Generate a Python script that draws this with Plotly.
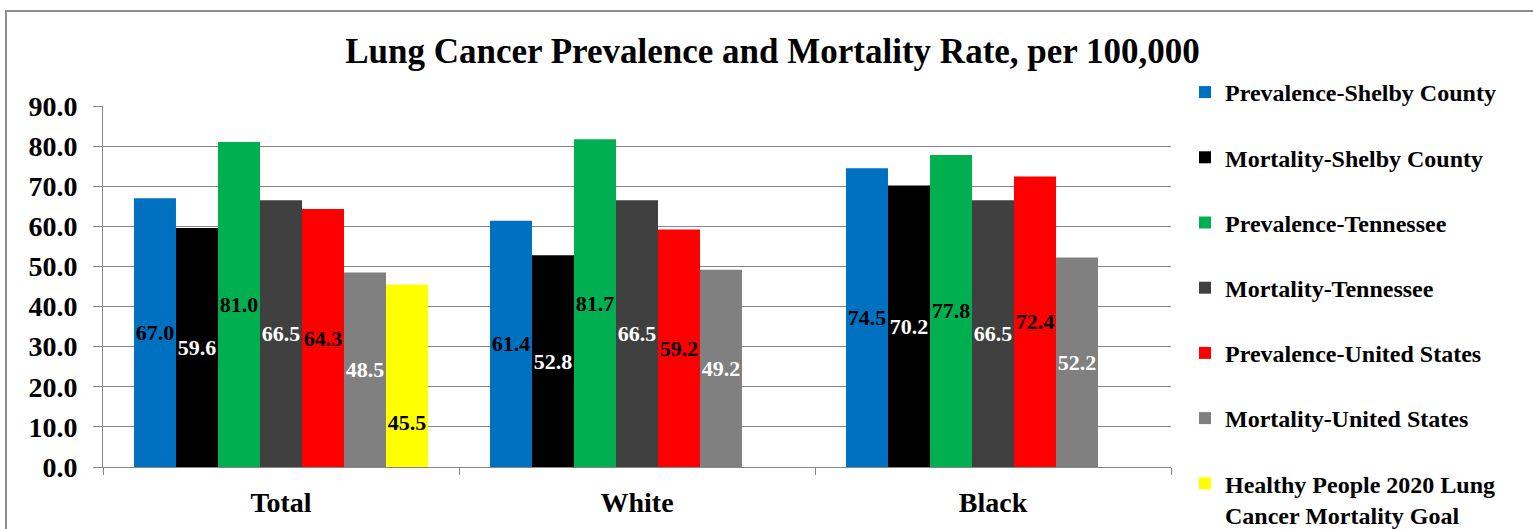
import plotly.graph_objects as go

categories = ["Total", "White", "Black"]
series_names = [
    "Prevalence-Shelby County",
    "Mortality-Shelby County",
    "Prevalence-Tennessee",
    "Mortality-Tennessee",
    "Prevalence-United States",
    "Mortality-United States",
    "Healthy People 2020 Lung<br>Cancer Mortality Goal",
]
prev_shelby = [67.0, 61.4, 74.5]
mort_shelby = [59.6, 52.8, 70.2]
prev_tn = [81.0, 81.7, 77.8]
mort_tn = [66.5, 66.5, 66.5]
prev_us = [64.3, 59.2, 72.4]
mort_us = [48.5, 49.2, 52.2]
hp2020_goal = [45.5, None, None]
y_ticks = [0, 10, 20, 30, 40, 50, 60, 70, 80, 90]
y_range = [0, 90]

series_values = [prev_shelby, mort_shelby, prev_tn, mort_tn, prev_us, mort_us, hp2020_goal]
bar_colors = ["#0070C0", "#000000", "#00B050", "#404040", "#FF0000", "#808080", "#FFFF00"]
label_colors = ["#000000", "#FFFFFF", "#000000", "#FFFFFF", "#000000", "#FFFFFF", "#000000"]
anchors = ["middle"] * 6 + ["start"]
# the goal label sits above the bar's foot, lifted by one blank line
label_suffix = [""] * 6 + ["<br>\u00a0"]

FONT = "Liberation Serif"
GRID = "#868686"

fig = go.Figure()
for i, (name, vals) in enumerate(zip(series_names, series_values)):
    fig.add_trace(go.Bar(
        name=name,
        x=categories,
        y=vals,
        marker=dict(color=bar_colors[i], line=dict(width=0)),
        text=[None if v is None else f"{v:.1f}{label_suffix[i]}" for v in vals],
        textposition="inside",
        insidetextanchor=anchors[i],
        textangle=0,
        textfont=dict(family=FONT, size=22, color=label_colors[i], weight="bold"),
        constraintext="none",
        cliponaxis=False,
        legendgroup=f"g{i}",
    ))

# empty helper trace so the label-only second y axis gets drawn
fig.add_trace(go.Scatter(x=[], y=[], yaxis="y2", showlegend=False,
                         hoverinfo="skip", mode="markers"))

# The page shows a 1533x529 window; the canvas runs a little lower so the
# legend's last two-line entry can sit near the bottom edge as in the source.
W, VIEW_H, H = 1533, 529, 570
L, R, T, B = 103, 1171, 106, 467
pw, ph = R - L, B - T

def px_x(x):
    return (x - L) / pw

def px_y(y):
    return (B - y) / ph

fig.update_layout(
    width=W, height=H,
    margin=dict(l=L, r=W - R, t=T, b=H - B, pad=0),
    paper_bgcolor="white",
    plot_bgcolor="white",
    barmode="group",
    bargap=0.174,
    bargroupgap=0,
    title=dict(
        text="Lung Cancer Prevalence and Mortality Rate, per 100,000",
        font=dict(family=FONT, size=35, color="black", weight="bold"),
        x=(345 + 1200) / 2 / W, xanchor="center",
        y=1 - 51 / H, yanchor="middle",
    ),
    font=dict(family=FONT, color="black"),
    legend=dict(
        x=px_x(1185), xanchor="left",
        y=px_y(70), yanchor="top",
        font=dict(family=FONT, size=24, color="black", weight="bold"),
        tracegroupgap=31,
        valign="top",
        bgcolor="rgba(0,0,0,0)",
        maxheight=1,
    ),
    showlegend=True,
    shapes=[dict(
        type="rect", xref="paper", yref="paper",
        x0=px_x(6), x1=px_x(1545), y0=px_y(560), y1=px_y(11),
        line=dict(color="#8C8C8C", width=2), fillcolor="rgba(0,0,0,0)",
        layer="below",
    )],
    # second (label-only) y axis over the first, so the value labels can
    # stand further off the axis than the short grey tick stubs
    yaxis2=dict(
        overlaying="y", side="left", anchor="x",
        range=y_range,
        tickvals=y_ticks,
        tickformat=".1f",
        ticks="outside", ticklen=19, tickcolor="rgba(0,0,0,0)",
        tickfont=dict(family=FONT, size=28, color="black", weight="bold"),
        showgrid=False, showline=False, zeroline=False,
    ),
)

fig.update_layout(yaxis=dict(
    range=y_range,
    tickvals=y_ticks,
    showticklabels=False,
    showgrid=True, gridcolor=GRID, gridwidth=1.3,
    showline=True, linecolor=GRID, linewidth=1.3,
    ticks="outside", ticklen=9, tickcolor=GRID, tickwidth=1.3,
    zeroline=False,
))
fig.update_xaxes(
    type="category",
    showline=True, linecolor=GRID, linewidth=1.3,
    ticks="outside", ticklen=7, tickcolor=GRID, tickwidth=1.3,
    tickson="boundaries",
    tickfont=dict(family=FONT, size=28, color="black", weight="bold"),
    ticklabelstandoff=10,
    showgrid=False,
)

clip_js = (
    "document.documentElement.style.overflow='hidden';"
    "document.body.style.margin='0';"
    "document.body.style.overflow='hidden';"
    "var wrap=document.getElementById('{plot_id}').parentElement;"
    "wrap.style.height='" + str(VIEW_H) + "px';"
    "wrap.style.overflow='hidden';"
)

fig.write_html(
    "out.html",
    config={"displayModeBar": False},
    post_script=clip_js,
)
